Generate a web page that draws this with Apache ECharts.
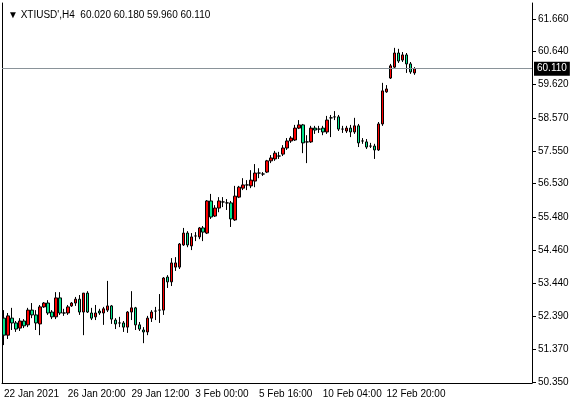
<!DOCTYPE html>
<html><head><meta charset="utf-8">
<script src="https://cdn.jsdelivr.net/npm/echarts@6/dist/echarts.min.js"></script>
<style>html,body{margin:0;padding:0;background:#fff}#c{width:575px;height:406px}</style>
</head><body><div id="c"></div>
<script>
// [open, close, low, high]
const candles = [
[52.34,51.81,51.50,52.59],[51.81,52.41,51.69,52.50],[52.34,52.19,51.97,52.66],[52.19,52.00,51.91,52.25],
[52.03,52.25,51.94,52.34],[52.25,52.10,52.03,52.31],[52.13,52.59,52.06,52.66],[52.59,52.44,52.34,52.81],
[52.44,52.19,51.97,52.59],[52.16,52.69,51.81,52.75],[52.69,52.81,52.66,52.84],[52.81,52.50,52.44,52.90],
[52.53,52.38,52.31,52.59],[52.38,52.97,52.31,53.15],[52.97,52.50,52.44,53.15],[52.50,52.50,52.41,52.63],
[52.50,52.69,52.44,52.75],[52.72,52.81,52.69,52.84],[52.81,52.93,52.72,53.00],[52.93,52.53,52.44,53.06],
[52.53,53.12,51.81,53.12],[53.12,52.53,52.50,53.18],[52.50,52.34,52.28,52.66],[52.38,52.50,52.28,52.75],
[52.56,52.50,52.44,52.63],[52.50,52.63,52.13,52.69],[52.59,52.72,52.53,53.50],[52.72,52.31,52.16,52.75],
[52.28,52.16,52.00,52.34],[52.19,52.19,52.06,52.38],[52.19,52.06,51.91,52.25],[52.06,52.53,51.88,52.56],
[52.53,52.66,52.28,53.18],[52.66,52.13,51.97,52.69],[52.13,52.00,51.94,52.22],[51.97,51.91,51.56,52.06],
[51.91,52.34,51.81,52.41],[52.34,52.53,52.22,52.59],[52.56,52.56,52.28,52.69],[52.59,52.59,52.19,53.09],
[52.59,53.59,52.44,53.62],[53.62,53.47,53.28,53.68],[53.47,54.06,53.34,54.21],[53.93,54.06,53.81,54.24],
[53.93,54.65,53.87,54.68],[54.62,54.99,54.59,55.15],[54.99,54.62,54.55,55.05],[54.59,54.87,54.46,54.99],
[54.90,54.90,54.74,55.02],[54.87,55.15,54.80,55.18],[55.15,55.02,54.74,55.21],[54.99,55.99,54.96,56.02],
[55.99,55.49,55.43,56.21],[55.52,55.77,55.49,55.86],[55.77,55.99,55.64,56.11],[55.96,55.96,55.80,56.11],
[55.93,55.93,55.71,56.05],[55.93,55.43,55.18,55.99],[55.40,56.14,55.37,56.46],[56.11,56.42,56.08,56.46],
[56.39,56.49,56.33,56.70],[56.49,56.49,56.33,56.64],[56.46,56.64,56.39,56.95],[56.61,56.86,56.42,57.14],
[56.86,56.86,56.70,57.01],[56.83,56.83,56.77,56.89],[56.89,57.24,56.86,57.27],[57.24,57.33,57.17,57.42],
[57.30,57.48,57.24,57.55],[57.39,57.39,57.30,57.52],[57.45,57.64,57.39,57.73],[57.64,57.86,57.58,57.95],
[57.86,57.95,57.80,58.01],[57.89,58.26,57.86,58.36],[58.26,58.36,58.23,58.51],[58.36,57.80,57.48,58.39],
[57.83,57.83,57.17,58.04],[57.83,58.26,57.80,58.33],[58.26,58.20,58.08,58.33],[58.23,58.23,58.11,58.33],
[58.26,58.14,58.04,58.33],[58.14,58.51,58.08,58.64],[58.58,58.58,57.98,58.67],[58.61,58.61,58.51,58.79],
[58.61,58.23,58.17,58.67],[58.23,58.23,58.11,58.33],[58.17,58.26,58.11,58.33],[58.26,58.14,57.98,58.36],
[58.14,58.33,58.08,58.58],[58.33,57.80,57.67,58.39],[57.86,57.86,57.77,57.95],[57.83,57.67,57.61,57.92],
[57.70,57.70,57.64,57.80],[57.70,57.58,57.30,57.77],[57.58,58.39,57.55,58.45],[58.39,59.42,58.33,59.67],
[59.39,59.48,59.36,59.60],[59.82,60.20,59.79,60.26],[60.16,60.60,60.13,60.76],[60.60,60.35,60.29,60.73],
[60.38,60.54,60.32,60.63],[60.54,60.26,59.98,60.60],[60.26,60.01,59.95,60.32],[59.98,60.11,59.92,60.16]
];
const timeLabels = ['22 Jan 2021','26 Jan 20:00','29 Jan 12:00','3 Feb 00:00','5 Feb 16:00','10 Feb 04:00','12 Feb 20:00'];
const priceTicks = [50.35,51.37,52.39,53.44,54.46,55.48,56.53,57.55,58.57,59.62,60.64,61.66];
const lastPrice = 60.11;
const titleText = "XTIUSD',H4  60.020 60.180 59.960 60.110";

const nSlots = 133;
const categories = [];
for (let i = 0; i < nSlots; i++) categories.push(String(i));
const font = 'Liberation Sans';
const isTick = (i) => i % 16 === 0 && i / 16 < timeLabels.length;
const chart = echarts.init(document.getElementById('c'));
chart.setOption({
  animation: false,
  backgroundColor: '#fff',
  title: { text: '\u25BC ' + titleText, left: 3, top: 5, textStyle: { fontSize: 10, fontWeight: 'normal', color: '#000', fontFamily: font } },
  grid: { left: 2, right: 43, top: 3, bottom: 23 },
  xAxis: {
    type: 'category', data: categories, boundaryGap: true,
    axisLine: { lineStyle: { color: '#000' } },
    axisTick: { interval: isTick, alignWithLabel: true, length: 4, lineStyle: { color: '#000' } },
    axisLabel: { interval: isTick, hideOverlap: false, formatter: (v, i) => timeLabels[i / 16] || '', align: 'left', margin: 6, fontSize: 10, color: '#000', fontFamily: font }
  },
  yAxis: [{
    type: 'value', position: 'right', min: 50.319, max: 62.158, scale: true,
    splitLine: { show: false },
    axisLine: { show: true, lineStyle: { color: '#000' } },
    axisTick: { show: true, length: 4, customValues: priceTicks, lineStyle: { color: '#000' } },
    axisLabel: { customValues: priceTicks, formatter: (v) => v.toFixed(3), fontSize: 10, color: '#000', fontFamily: font, margin: 6 }
  }, {
    type: 'value', position: 'left', min: 50.319, max: 62.158,
    splitLine: { show: false }, axisLabel: { show: false }, axisTick: { show: false },
    axisLine: { show: true, lineStyle: { color: '#000' } }
  }],
  series: [{
    type: 'candlestick', data: candles, barWidth: 3,
    itemStyle: { color: '#ff0000', color0: '#00e68c', borderColor: '#000', borderColor0: '#000', borderWidth: 1 },
    markLine: {
      symbol: 'none', silent: true, animation: false,
      data: [{ yAxis: lastPrice }],
      lineStyle: { color: '#8a9399', type: 'solid', width: 1 },
      label: { position: 'end', formatter: lastPrice.toFixed(3), backgroundColor: '#000', color: '#fff', fontSize: 10, fontFamily: font, padding: [2, 3], distance: 2 }
    }
  }]
});
</script></body></html>
